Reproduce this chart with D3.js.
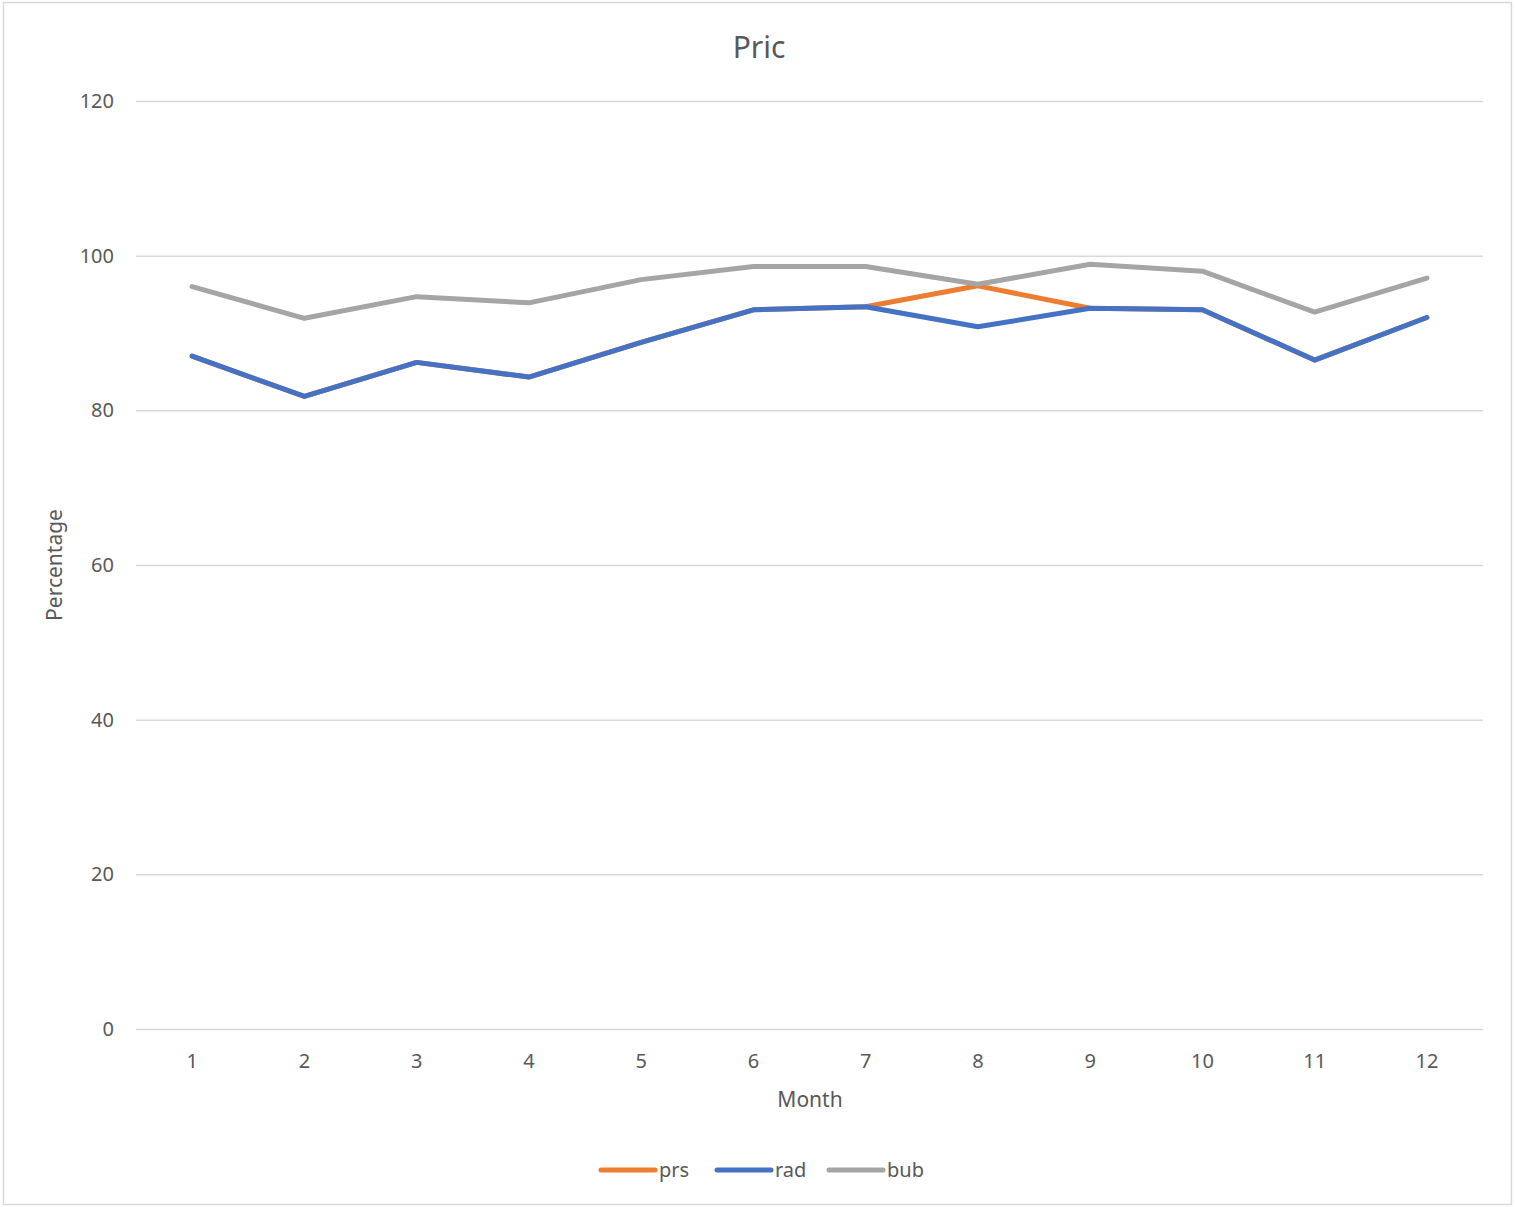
<!DOCTYPE html>
<html>
<head>
<meta charset="utf-8">
<script src="https://cdnjs.cloudflare.com/ajax/libs/d3/7.8.5/d3.min.js"></script>
<style>
  body { margin: 0; background: #fff; }
  text { font-family: "Noto Sans", "Open Sans", sans-serif; fill: #595959; }
</style>
</head>
<body>
<svg id="chart"></svg>
<script>
// chart data
var months = [1, 2, 3, 4, 5, 6, 7, 8, 9, 10, 11, 12]
var prs = [87.0, 81.8, 86.2, 84.3, 88.8, 93.0, 93.4, 96.1, 93.2, 93.0, 86.5, 92.0]
var rad = [87.0, 81.8, 86.2, 84.3, 88.8, 93.0, 93.4, 90.8, 93.2, 93.0, 86.5, 92.0]
var bub = [96.0, 91.9, 94.7, 93.9, 96.9, 98.6, 98.6, 96.3, 98.9, 98.0, 92.7, 97.1]
var yTicks = [0, 20, 40, 60, 80, 100, 120]
var seriesNames = ["prs", "rad", "bub"]
var seriesColors = ["#ED7D31", "#4472C4", "#A5A5A5"]

var screen = {width: 1515, height: 1207}
var margins = {left: 136, right: 32, top: 101, bottom: 178}
var graph = {
    width: screen.width - margins.left - margins.right,
    height: screen.height - margins.top - margins.bottom
}

var svg = d3.select("#chart")
    .attr("width", screen.width)
    .attr("height", screen.height)

// outer border
svg.append("rect")
    .attr("x", 3.5).attr("y", 2.5)
    .attr("width", 1508).attr("height", 1202)
    .attr("fill", "#fff")
    .attr("stroke", "#D9D9D9")
    .attr("stroke-width", 1.5)

var xScale = d3.scaleBand()
    .domain(months)
    .range([0, graph.width])

var yScale = d3.scaleLinear()
    .domain([0, 120])
    .range([graph.height, 0])

var target = svg.append("g")
    .attr("transform", "translate(" + margins.left + "," + margins.top + ")")

// gridlines
var yAxis = d3.axisLeft(yScale)
    .tickValues(yTicks)
    .tickSize(-graph.width)
    .tickPadding(22)
target.append("g")
    .attr("class", "yaxis")
    .call(yAxis)
    .call(function(g) {
        g.select(".domain").remove()
        g.selectAll(".tick line").attr("stroke", "#D9D9D9").attr("stroke-width", 1.5)
        g.selectAll(".tick text").style("font-size", "20px").attr("fill", "#595959")
    })

var xAxis = d3.axisBottom(xScale).tickSize(0).tickPadding(25)
target.append("g")
    .attr("class", "xaxis")
    .attr("transform", "translate(0," + graph.height + ")")
    .call(xAxis)
    .call(function(g) {
        g.select(".domain").remove()
        g.selectAll(".tick text").style("font-size", "20px").attr("fill", "#595959")
    })

var line = d3.line()
    .x(function(d, i) { return xScale(months[i]) + xScale.bandwidth() / 2 })
    .y(function(d) { return yScale(d) })

var allSeries = [prs, rad, bub]
allSeries.forEach(function(values, i) {
    target.append("path")
        .datum(values)
        .attr("d", line)
        .attr("fill", "none")
        .attr("stroke", seriesColors[i])
        .attr("stroke-width", 5)
        .attr("stroke-linecap", "round")
        .attr("stroke-linejoin", "round")
})

// titles
svg.append("text")
    .attr("x", 759).attr("y", 58)
    .attr("text-anchor", "middle")
    .style("font-size", "30px")
    .text("Pric")

svg.append("text")
    .attr("x", 810).attr("y", 1107)
    .attr("text-anchor", "middle")
    .style("font-size", "21px")
    .text("Month")

svg.append("text")
    .attr("transform", "translate(62,565) rotate(-90)")
    .attr("text-anchor", "middle")
    .style("font-size", "21px")
    .text("Percentage")

// legend
var legendX = [601, 717, 829]
var legend = svg.append("g")
seriesNames.forEach(function(name, i) {
    legend.append("line")
        .attr("x1", legendX[i]).attr("x2", legendX[i] + 54)
        .attr("y1", 1170).attr("y2", 1170)
        .attr("stroke", seriesColors[i])
        .attr("stroke-width", 5)
        .attr("stroke-linecap", "round")
    legend.append("text")
        .attr("x", legendX[i] + 58).attr("y", 1177)
        .style("font-size", "20px")
        .text(name)
})
</script>
</body>
</html>
